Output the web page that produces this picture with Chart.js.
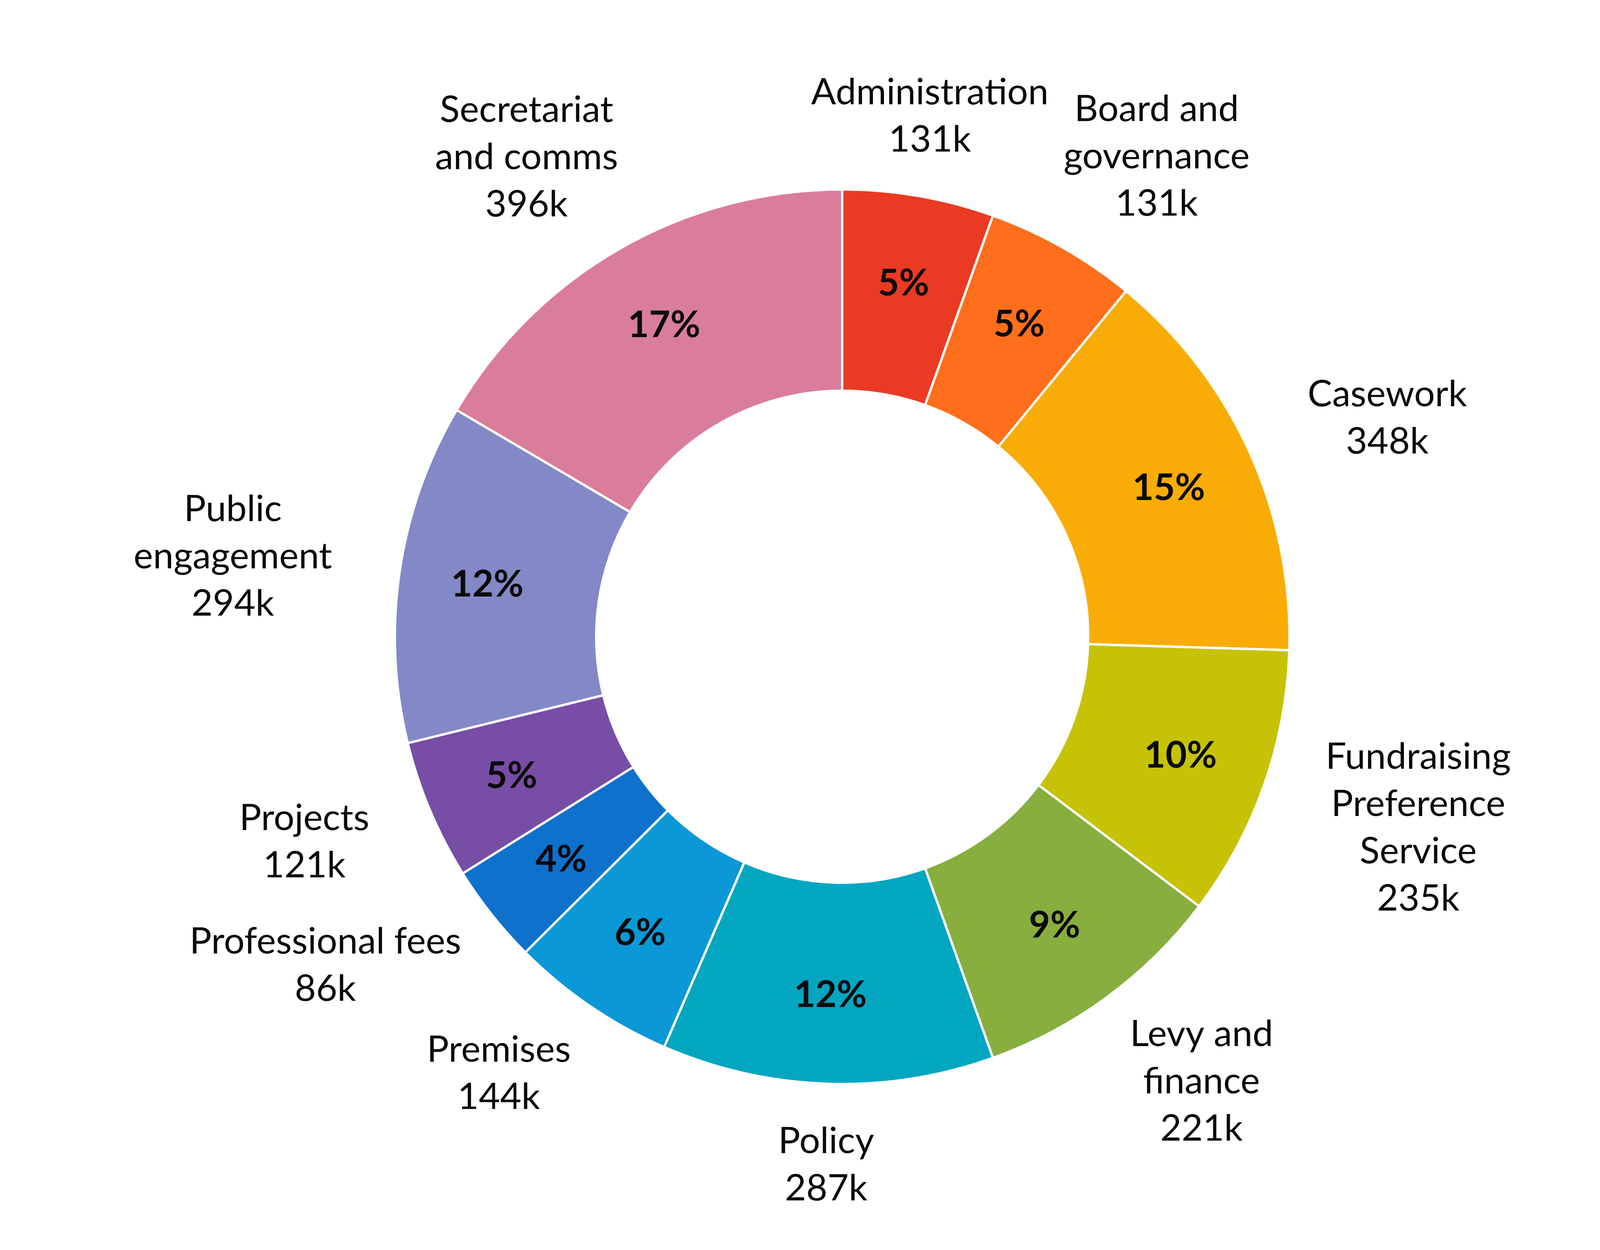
<!DOCTYPE html>
<html>
<head>
<meta charset="utf-8">
<title>Expenditure by area</title>
<script src="https://cdn.jsdelivr.net/npm/chart.js@4/dist/chart.umd.min.js"></script>
<style>
  html, body { margin: 0; padding: 0; background: #fff; }
  #pie { display: block; }
</style>
</head>
<body>
<canvas id="pie" width="4267" height="3200"></canvas>
<script>
// slices run clockwise from 12 o'clock
var categories = [
  "Administration", "Board and\ngovernance", "Casework",
  "Fundraising\nPreference\nService", "Levy and\nfinance", "Policy",
  "Premises", "Professional fees", "Projects",
  "Public\nengagement", "Secretariat\nand comms"
];
var values = [131, 131, 348, 235, 221, 287, 144, 86, 121, 294, 396]; // thousands
var colours = [
  "#EA3A23", "#FF6F1B", "#F9AC05", "#C6C206", "#87AE3E", "#02A6C0",
  "#0B98D6", "#0E71CB", "#774DA6", "#8289C6", "#D97D9B"
];

var total = values.reduce(function (a, b) { return a + b; }, 0);

var labelFont = "94px Lato, 'Open Sans', sans-serif";
var pctFont = "bold 94px Lato, 'Open Sans', sans-serif";
var lineH = 121;
var gap = 107;

// draws the % inside each slice and the name + value outside
var sliceLabels = {
  id: 'sliceLabels',
  afterDatasetsDraw: function (chart) {
    var c = chart.ctx;
    var arcs = chart.getDatasetMeta(0).data;
    c.save();
    c.fillStyle = "#0a0a0a";
    c.textAlign = "center";
    c.textBaseline = "middle";
    arcs.forEach(function (arc, i) {
      var p = arc.getProps(['x', 'y', 'startAngle', 'endAngle', 'innerRadius', 'outerRadius'], true);
      var mid = (p.startAngle + p.endAngle) / 2;
      var cos = Math.cos(mid), sin = Math.sin(mid);

      // percentage
      var rIn = p.innerRadius + 0.56 * (p.outerRadius - p.innerRadius);
      c.font = pctFont;
      c.fillText(Math.round(values[i] / total * 100) + "%", p.x + rIn * cos, p.y + rIn * sin);

      // outside label; side ones get pushed out by half their width plus a bit,
      // the ones near top/bottom stay centred over the slice
      c.font = labelFont;
      var lines = categories[i].split("\n").concat([values[i] + "k"]);
      var w = Math.max.apply(null, lines.map(function (s) { return c.measureText(s).width; }));
      var h = lines.length * lineH;
      var rOut = p.outerRadius + gap;
      var k = Math.max(0, Math.min(1, (Math.abs(cos) - 0.15) * 4));
      var cx = p.x + rOut * cos + k * ((w / 2) * cos + Math.sign(cos) * 70);
      var cy = p.y + rOut * sin + (h / 2 - 20) * sin;
      var y0 = cy - (lines.length - 1) * lineH / 2;
      lines.forEach(function (s, n) {
        c.fillText(s, cx, y0 + n * lineH);
      });
    });
    c.restore();
  }
};

var chart = new Chart(document.getElementById('pie'), {
  type: 'doughnut',
  data: {
    labels: categories,
    datasets: [{
      data: values,
      backgroundColor: colours,
      borderColor: "#ffffff",
      borderWidth: 6
    }]
  },
  options: {
    responsive: false,
    animation: false,
    devicePixelRatio: 1,
    cutout: '55%',
    layout: { padding: { top: 482, bottom: 422, left: 45, right: 0 } },
    plugins: {
      legend: { display: false },
      tooltip: { enabled: false }
    }
  },
  plugins: [sliceLabels]
});
</script>
</body>
</html>
